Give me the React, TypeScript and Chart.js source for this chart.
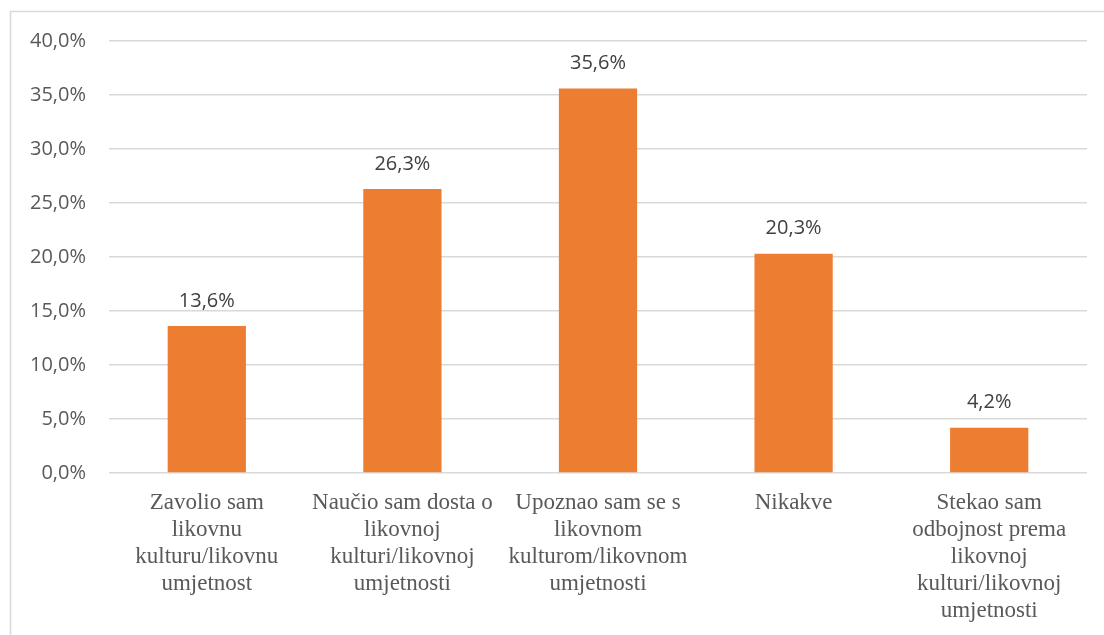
import React, { useEffect, useRef } from "react";
import { Chart, registerables } from "chart.js";

Chart.register(...registerables);

const categories: string[][] = [
  ["Zavolio sam", "likovnu", "kulturu/likovnu", "umjetnost"],
  ["Naučio sam dosta o", "likovnoj", "kulturi/likovnoj", "umjetnosti"],
  ["Upoznao sam se s", "likovnom", "kulturom/likovnom", "umjetnosti"],
  ["Nikakve"],
  ["Stekao sam", "odbojnost prema", "likovnoj", "kulturi/likovnoj", "umjetnosti"],
];
const values: number[] = [13.6, 26.3, 35.6, 20.3, 4.2];
const yMin = 0;
const yMax = 40;
const yStep = 5;

const fmt = (v: number, d = 1) => v.toFixed(d).replace(".", ",") + "%";

const framePlugin = {
  id: "frame",
  beforeDraw(chart: any) {
    const ctx = chart.ctx;
    ctx.save();
    ctx.strokeStyle = "#d9d9d9";
    ctx.lineWidth = 1.5;
    ctx.beginPath();
    ctx.moveTo(10.5, 635);
    ctx.lineTo(10.5, 11.5);
    ctx.lineTo(1104, 11.5);
    ctx.stroke();
    ctx.restore();
  },
};

const labelPlugin = {
  id: "barLabels",
  afterDatasetsDraw(chart: any) {
    const ctx = chart.ctx;
    const meta = chart.getDatasetMeta(0);
    ctx.save();
    ctx.font = "20px Open Sans";
    ctx.fillStyle = "#404040";
    ctx.textAlign = "center";
    ctx.textBaseline = "middle";
    meta.data.forEach((bar: any, i: number) => {
      ctx.fillText(fmt(values[i]), bar.x, bar.y - 25);
    });
    ctx.restore();
  },
};

export default function App() {
  const ref = useRef<HTMLCanvasElement>(null);
  useEffect(() => {
    if (!ref.current) return;
    const chart = new Chart(ref.current, {
      type: "bar",
      data: {
        labels: categories,
        datasets: [
          {
            data: values,
            backgroundColor: "#ED7D31",
            borderWidth: 0,
            barPercentage: 0.4,
            categoryPercentage: 1,
          },
        ],
      },
      options: {
        responsive: false,
        animation: false,
        layout: { padding: { top: 41, right: 17, left: 0, bottom: 0 } },
        plugins: {
          legend: { display: false },
          tooltip: { enabled: false },
        },
        scales: {
          x: {
            grid: { display: false },
            border: { display: false },
            ticks: {
              padding: 8,
              maxRotation: 0,
              autoSkip: false,
              color: "#595959",
              font: { family: "Liberation Serif", size: 23, lineHeight: "27px" },
            },
            afterFit(scale: any) {
              scale.height = 635 - 473;
            },
          },
          y: {
            min: yMin,
            max: yMax,
            grid: { color: "#d9d9d9", lineWidth: 1.5, drawTicks: false },
            border: { display: false },
            ticks: {
              stepSize: yStep,
              padding: 23,
              color: "#595959",
              font: { family: "Open Sans", size: 20 },
              callback: (v: any) => fmt(Number(v)),
            },
            afterFit(scale: any) {
              scale.width = 109;
            },
          },
        },
      },
      plugins: [framePlugin, labelPlugin],
    });
    return () => chart.destroy();
  }, []);
  return (
    <div style={{ position: "fixed", left: 0, top: 0, width: 1104, height: 635, background: "#fff" }}>
      <canvas ref={ref} width={1104} height={635} style={{ width: 1104, height: 635, display: "block" }} />
    </div>
  );
}
